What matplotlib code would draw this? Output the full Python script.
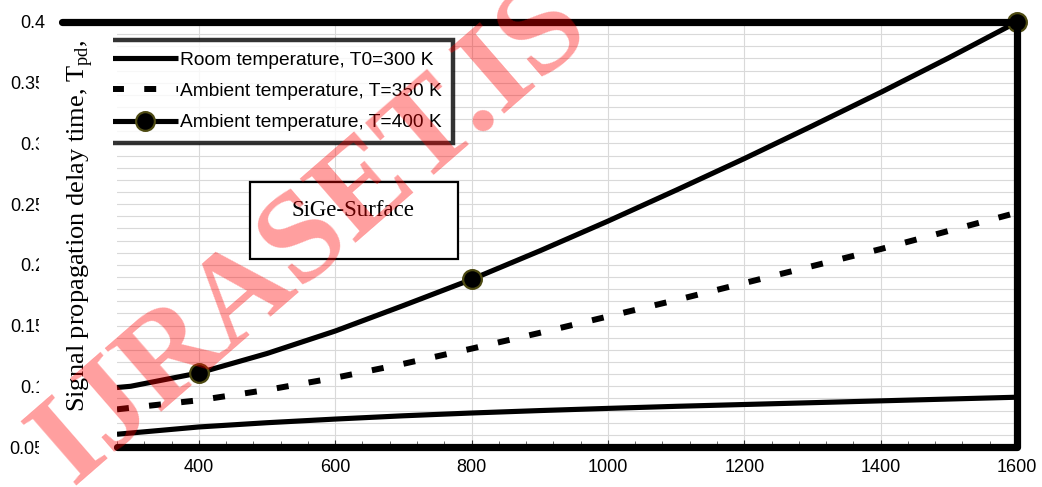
import numpy as np
import matplotlib
matplotlib.use("Agg")
import matplotlib.pyplot as plt
from matplotlib.ticker import MultipleLocator, FixedLocator
from matplotlib.patches import Rectangle
from matplotlib.lines import Line2D

# ---------------- data ----------------
length_um = [280, 300, 400, 500, 600, 700, 800, 900, 1000, 1100, 1200, 1300, 1400, 1500, 1600]
t_300K = [0.0605, 0.0615, 0.0665, 0.0700, 0.0730, 0.0757, 0.0780, 0.0800, 0.0818, 0.0835, 0.0850, 0.0865, 0.0880, 0.0895, 0.0910]
t_350K = [0.0810, 0.0823, 0.0885, 0.0970, 0.1070, 0.1185, 0.1310, 0.1440, 0.1575, 0.1710, 0.1850, 0.1990, 0.2130, 0.2280, 0.2430]
t_400K = [0.0990, 0.1000, 0.1110, 0.1270, 0.1455, 0.1665, 0.1880, 0.2115, 0.2360, 0.2615, 0.2875, 0.3145, 0.3420, 0.3705, 0.4000]
marker_x = [400, 800, 1600]

labels = ["Room temperature, T0=300 K",
          "Ambient temperature, T=350 K",
          "Ambient temperature, T=400 K"]
x_ticks = [400, 600, 800, 1000, 1200, 1400, 1600]
y_ticks = [0.05, 0.1, 0.15, 0.2, 0.25, 0.3, 0.35, 0.4]
y_ticklabels = ["0.05", "0.1", "0.15", "0.2", "0.25", "0.3", "0.35", "0.4"]
ylabel = r"Signal propagation delay time, T$_{\mathrm{pd}}$,"
box_text = "SiGe-Surface"
watermark = "IJRASET.IS"

# ---------------- style ----------------
plt.rcParams['font.family'] = ['Liberation Sans', 'DejaVu Sans']
plt.rcParams['mathtext.fontset'] = 'custom'
plt.rcParams['mathtext.rm'] = 'Liberation Serif'

W, H = 1042, 487
fig = plt.figure(figsize=(W / 100, H / 100), dpi=100)
L, R, B, T = 117, 1017, 447, 22
ax = fig.add_axes([L / W, (H - B) / H, (R - L) / W, (B - T) / H])

ax.set_xlim(280, 1600)
ax.set_ylim(0.05, 0.4)

lw = 3.7
ax.plot(length_um, t_300K, color='black', lw=lw, solid_capstyle='butt',
        solid_joinstyle='round', zorder=3, label=labels[0])
ax.plot(length_um, t_350K, color='black', lw=lw + 0.6, linestyle=(0, (2.0, 3.4)),
        dash_capstyle='butt', zorder=3, label=labels[1])
mk = [length_um.index(v) for v in marker_x]
ax.plot(length_um, t_400K, color='black', lw=lw, solid_capstyle='butt',
        solid_joinstyle='round', marker='o',
        markevery=mk, markersize=13.5, markerfacecolor='black',
        markeredgecolor='#4d4a12', markeredgewidth=1.6, zorder=4, label=labels[2],
        clip_on=False)

# grid
ax.xaxis.set_major_locator(FixedLocator(x_ticks))
ax.xaxis.set_minor_locator(MultipleLocator(40))
ax.yaxis.set_major_locator(FixedLocator(y_ticks))
ax.yaxis.set_minor_locator(MultipleLocator(0.01))
ax.set_yticklabels(y_ticklabels)
ax.grid(True, which='both', axis='y', color='#d9d9d9', lw=0.8, zorder=0)
ax.grid(True, which='major', axis='x', color='#d9d9d9', lw=0.8, zorder=0)
ax.set_axisbelow(True)

for s in ax.spines.values():
    s.set_visible(False)

ax.tick_params(axis='x', which='major', direction='in', length=5, width=0.8,
               labelsize=13, pad=9, color='#333333')
ax.tick_params(axis='x', which='minor', direction='in', length=4, width=0.6, color='#555555')
ax.tick_params(axis='y', which='both', length=0, labelsize=13, pad=52)

# thick frame (top, right, bottom), top extends to the left
frame = Line2D([-0.061, 1, 1, 0], [1, 1, 0, 0], transform=ax.transAxes, color='black',
               lw=5.2, solid_joinstyle='round', solid_capstyle='round', clip_on=False, zorder=6)
ax.add_line(frame)

# legend
leg = ax.legend(loc='upper left', bbox_to_anchor=(100 / W, (H - 40) / H),
                bbox_transform=fig.transFigure, fontsize=13.8, frameon=True,
                fancybox=False, edgecolor='black', borderpad=0.6, handlelength=3.45,
                handletextpad=0.1, labelspacing=0.72, borderaxespad=0)
leg.get_frame().set_linewidth(3.2)
leg.set_zorder(7)

# annotation box
ax.add_patch(Rectangle((0.1478, 0.4424), 0.3789 - 0.1478, 0.6235 - 0.4424,
                       transform=ax.transAxes, facecolor='white', edgecolor='black',
                       lw=1.6, zorder=5))
ax.text(0.262, 0.5576, box_text, transform=ax.transAxes, ha='center', va='center',
        fontsize=16.5, family=['Liberation Serif', 'DejaVu Serif'], zorder=6)

# y label
fig.text(80 / W, (H - 226) / H, ylabel, rotation=90, ha='center', va='center',
         fontsize=19, family=['Liberation Serif', 'DejaVu Serif'])

# white masks (clipped tick labels and left edge of legend)
fig.add_artist(Rectangle((39 / W, 0), 18 / W, (H - 38) / H, transform=fig.transFigure,
                         facecolor='white', edgecolor='none', zorder=20))
fig.add_artist(Rectangle((95 / W, (H - 155) / H), 18 / W, 122 / H, transform=fig.transFigure,
                         facecolor='white', edgecolor='none', zorder=20))

# watermark
fig.text(72 / W, 2 / H, watermark, rotation=41, rotation_mode='anchor',
         ha='left', va='baseline', fontsize=93, fontweight='bold',
         family=['Liberation Serif', 'DejaVu Serif'], color='red', alpha=0.38, zorder=30)

fig.savefig('out.png', dpi=100)
